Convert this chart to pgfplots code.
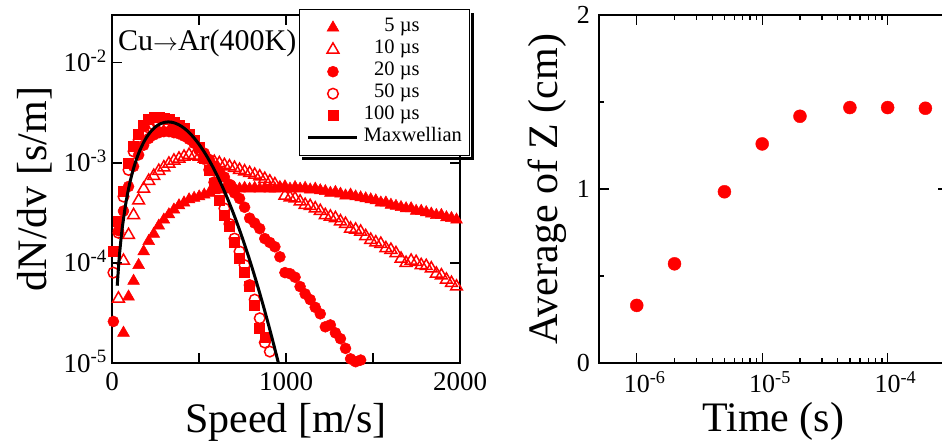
\documentclass[border=0pt]{standalone}
\usepackage{fontspec}
\setmainfont{Liberation Serif}
\usepackage{pgfplots}
\pgfplotsset{compat=1.18}

\pgfplotsset{
  frame/.style={
    scale only axis,
    tick align=inside,
    axis line style={line width=2pt},
    every tick/.style={black, line width=1.4pt},
    major tick length=10pt,
    minor tick length=5pt,
    clip=false,
    clip marker paths=true,
  },
  mkleg/.style={legend image code/.code={\draw[mark repeat=2,mark phase=2,##1] plot coordinates {(0pt,0pt) (24.5pt,0pt) (49pt,0pt)};}},
  lnleg/.style={legend image code/.code={\draw[##1] (0pt,0pt) -- (49pt,0pt);}},
}

\begin{document}
\begin{tikzpicture}[x=1pt,y=1pt]

% ---------------- speed distributions ----------------
\begin{axis}[frame,
  at={(112pt,83pt)}, anchor=south west,
  width=348pt, height=348pt,
  xmin=0, xmax=2000,
  ymode=log, ymin=1e-5, ymax=3e-2,
  yminorticks=false,
  xtick={0,500,1000,1500,2000},
  xticklabels={0,,1000,,2000},
  ytick={1e-5,1e-4,1e-3,1e-2},
  yticklabels={10\textsuperscript{-5},10\textsuperscript{-4},10\textsuperscript{-3},10\textsuperscript{-2}},
  xticklabel style={font=\fontsize{27}{30}\selectfont, anchor=base, inner sep=0pt, yshift=-27pt},
  yticklabel style={font=\fontsize{27}{30}\selectfont, anchor=base east, inner sep=0pt, xshift=-5pt, yshift=-9pt},
  xlabel={Speed [m/s]}, ylabel={dN/dv [s/m]},
  label style={font=\fontsize{42}{46}\selectfont},
  xlabel style={at={(axis description cs:0.5,-0.170)}, anchor=center},
  ylabel style={at={(axis description cs:-0.221,0.5)}, anchor=center},
  legend cell align=left,
  legend style={name=leg, at={(axis description cs:0.537,1.017)}, anchor=north west,
    draw=black, line width=1.2pt, fill=white,
    font=\fontsize{20.5}{22}\selectfont,
    inner xsep=7.5pt, inner ysep=7pt, row sep=0pt,
    nodes={inner sep=0pt, text height=15pt, text depth=7pt},
    /tikz/every odd column/.append style={column sep=5pt}},
]
\node[anchor=base west, font=\fontsize{30}{32}\selectfont, inner sep=0pt] at (axis description cs:0.017,0.897) {Cu$\rightarrow$Ar(400K)};

% 5 us
\addplot[only marks, mark=triangle*, mark size=6.8pt, red, mark options={fill=red, draw=red, line width=0.5pt}, mkleg]
coordinates {(66,2.0e-5) (95,4.6e-5) (124,6.6e-5) (153,9.5e-5) (182,1.3e-4) (211,1.65e-4) (240,1.95e-4) (269,2.35e-4) (298,2.7e-4) (327,3.05e-4) (356,3.4e-4) (385,3.75e-4) (414,4.0e-4) (443,4.3e-4) (472,4.45e-4) (501,4.6e-4) (530,4.8e-4) (559,5.0e-4) (588,5.3e-4) (617,5.4e-4) (646,5.5e-4) (675,5.4e-4) (704,5.6e-4) (733,5.5e-4) (762,5.6e-4) (791,5.5e-4) (820,5.6e-4) (849,5.5e-4) (878,5.6e-4) (907,5.5e-4) (936,5.5e-4) (965,5.6e-4) (994,5.8e-4) (1023,5.5e-4) (1052,5.7e-4) (1081,5.5e-4) (1110,5.6e-4) (1139,5.4e-4) (1168,5.5e-4) (1197,5.3e-4) (1226,5.2e-4) (1255,5.0e-4) (1284,5.1e-4) (1313,4.9e-4) (1342,4.7e-4) (1371,4.8e-4) (1400,4.6e-4) (1429,4.5e-4) (1458,4.4e-4) (1487,4.3e-4) (1516,4.2e-4) (1545,4.0e-4) (1574,4.0e-4) (1603,3.8e-4) (1632,3.7e-4) (1661,3.6e-4) (1690,3.5e-4) (1719,3.5e-4) (1748,3.3e-4) (1777,3.3e-4) (1806,3.2e-4) (1835,3.1e-4) (1864,3.0e-4) (1893,3.0e-4) (1922,2.85e-4) (1951,2.8e-4) (1980,2.7e-4)};
\addlegendentry{\phantom{00}5 µs}

% 10 us
\addplot[only marks, mark=triangle, mark size=6.8pt, red, mark options={draw=red, line width=1.5pt}, mkleg]
coordinates {(37,4.4e-5) (66,1.05e-4) (95,1.9e-4) (124,3.0e-4) (153,4.2e-4) (182,5.5e-4) (211,6.6e-4) (240,7.4e-4) (269,8.3e-4) (298,9.0e-4) (327,9.8e-4) (356,1.05e-3) (385,1.1e-3) (414,1.15e-3) (443,1.2e-3) (472,1.18e-3) (501,1.15e-3) (530,1.1e-3) (559,1.06e-3) (588,1.02e-3) (617,9.9e-4) (646,9.5e-4) (675,9.2e-4) (704,8.9e-4) (733,8.5e-4) (762,8.2e-4) (791,7.9e-4) (820,7.6e-4) (849,7.3e-4) (878,6.9e-4) (907,6.5e-4) (936,6.1e-4) (965,5.6e-4) (994,4.7e-4) (1023,4.5e-4) (1052,4.4e-4) (1081,4.1e-4) (1110,3.8e-4) (1139,3.7e-4) (1168,3.5e-4) (1197,3.3e-4) (1226,3.0e-4) (1255,2.9e-4) (1284,2.8e-4) (1313,2.6e-4) (1342,2.45e-4) (1371,2.2e-4) (1400,2.15e-4) (1429,2.05e-4) (1458,1.85e-4) (1487,1.7e-4) (1516,1.6e-4) (1545,1.55e-4) (1574,1.4e-4) (1603,1.35e-4) (1632,1.25e-4) (1661,1.1e-4) (1690,1.0e-4) (1719,1.05e-4) (1748,1.02e-4) (1777,9.5e-5) (1806,9.3e-5) (1835,8.8e-5) (1864,7.8e-5) (1893,7.5e-5) (1922,6.8e-5) (1951,6.3e-5) (1980,5.8e-5)};
\addlegendentry{\phantom{0}10 µs}

% 20 us
\addplot[only marks, mark=*, mark size=5.5pt, red, mark options={fill=red, draw=red, line width=0.5pt}, mkleg]
coordinates {(8,2.6e-5) (37,2.1e-4) (66,3.3e-4) (95,5.8e-4) (124,9.2e-4) (153,1.2e-3) (182,1.5e-3) (211,1.75e-3) (240,1.9e-3) (269,2.0e-3) (298,2.05e-3) (327,2.05e-3) (356,2.0e-3) (385,1.95e-3) (414,1.85e-3) (443,1.72e-3) (472,1.58e-3) (501,1.42e-3) (530,1.25e-3) (559,1.08e-3) (588,9.3e-4) (617,8.2e-4) (646,7.2e-4) (675,6.1e-4) (704,5.0e-4) (733,4.4e-4) (762,3.6e-4) (791,2.8e-4) (820,2.5e-4) (849,2.2e-4) (878,1.75e-4) (907,1.6e-4) (936,1.45e-4) (965,1.15e-4) (994,8.0e-5) (1023,7.8e-5) (1052,7.2e-5) (1081,5.8e-5) (1110,4.9e-5) (1139,4.3e-5) (1168,3.6e-5) (1197,3.1e-5) (1226,2.3e-5) (1255,2.4e-5) (1284,2.0e-5) (1313,1.75e-5) (1342,1.4e-5) (1371,1.1e-5) (1400,1.03e-5) (1429,1.07e-5)};
\addlegendentry{\phantom{0}20 µs}

% 50 us
\addplot[only marks, mark=o, mark size=5.3pt, red, mark options={draw=red, line width=1.5pt}, mkleg]
coordinates {(8,8.0e-5) (37,2.0e-4) (66,4.6e-4) (95,8.5e-4) (124,1.3e-3) (153,1.7e-3) (182,2.0e-3) (211,2.25e-3) (240,2.4e-3) (269,2.45e-3) (298,2.45e-3) (327,2.4e-3) (356,2.3e-3) (385,2.15e-3) (414,1.98e-3) (443,1.8e-3) (472,1.58e-3) (501,1.35e-3) (530,1.1e-3) (559,8.5e-4) (588,6.4e-4) (617,4.8e-4) (646,3.5e-4) (675,2.45e-4) (704,1.75e-4) (733,1.3e-4) (762,9.5e-5) (791,6.0e-5) (820,4.3e-5) (849,2.8e-5) (878,1.6e-5) (907,1.3e-5)};
\addlegendentry{\phantom{0}50 µs}

% 100 us
\addplot[only marks, mark=square*, mark size=5pt, red, mark options={fill=red, draw=red, line width=0.5pt}, mkleg]
coordinates {(8,1.3e-4) (37,2.6e-4) (66,5.2e-4) (95,1.0e-3) (124,1.45e-3) (153,1.95e-3) (182,2.4e-3) (211,2.75e-3) (240,2.85e-3) (269,2.85e-3) (298,2.8e-3) (327,2.7e-3) (356,2.55e-3) (385,2.4e-3) (414,2.2e-3) (443,1.95e-3) (472,1.7e-3) (501,1.42e-3) (530,1.12e-3) (559,8.5e-4) (588,6.3e-4) (617,4.2e-4) (646,3.0e-4) (675,2.3e-4) (704,1.6e-4) (733,1.12e-4) (762,8.0e-5) (791,5.8e-5) (820,3.8e-5) (849,2.2e-5) (878,1.8e-5)};
\addlegendentry{100 µs}

% Maxwellian for Cu at 400 K (most probable speed 324 m/s)
\addplot[draw=black, line width=3pt, smooth, lnleg]
coordinates {(30,5.92e-5) (40,1.0456e-4) (50,1.6198e-4) (60,2.3082e-4) (80,3.9955e-4) (100,6.0324e-4) (120,8.330e-4) (140,1.0790e-3) (160,1.3310e-3) (180,1.5789e-3) (200,1.8131e-3) (220,2.0254e-3) (240,2.2079e-3) (260,2.3559e-3) (280,2.4650e-3) (300,2.5336e-3) (324,2.5625e-3) (340,2.5503e-3) (360,2.5021e-3) (380,2.4209e-3) (400,2.3121e-3) (430,2.1078e-3) (460,1.8704e-3) (490,1.6175e-3) (520,1.3652e-3) (550,1.1247e-3) (580,9.0546e-4) (610,7.1290e-4) (640,5.4911e-4) (670,4.1399e-4) (700,3.0555e-4) (730,2.2076e-4) (760,1.5629e-4) (790,1.0842e-4) (820,7.373e-5) (850,4.916e-5) (880,3.214e-5) (910,2.0616e-5) (940,1.2969e-5) (955,1.0204e-5)};
\addlegendentry{Maxwellian}
\end{axis}

% shadow of the legend box
\fill[black] ([shift={(0.6,-3.5)}]leg.north east) rectangle ([shift={(4.1,-4.1)}]leg.south east);
\fill[black] ([shift={(3.5,-0.6)}]leg.south west) rectangle ([shift={(4.1,-4.1)}]leg.south east);

% ---------------- mean height versus time ----------------
\begin{axis}[frame,
  at={(599pt,83pt)}, anchor=south west,
  width=348.5pt, height=348pt,
  xmode=log, xmin=5e-7, xmax=3e-4,
  ymin=0, ymax=2,
  xtick={1e-6,1e-5,1e-4},
  xticklabels={10\rlap{\textsuperscript{-6}},10\rlap{\textsuperscript{-5}},10\rlap{\textsuperscript{-4}}},
  ytick={0,1,2}, yticklabels={0,1,2},
  minor ytick={0.5,1.5},
  xticklabel style={font=\fontsize{26}{28}\selectfont, anchor=base, inner sep=0pt, yshift=-30pt},
  yticklabel style={font=\fontsize{26}{28}\selectfont, anchor=base east, inner sep=0pt, xshift=-9pt, yshift=-8.5pt},
  xlabel={Time (s)}, ylabel={Average of Z (cm)},
  label style={font=\fontsize{42}{46}\selectfont},
  xlabel style={at={(axis description cs:0.5,-0.169)}, anchor=center},
  ylabel style={at={(axis description cs:-0.149,0.5)}, anchor=center},
]
\addplot[only marks, mark=*, mark size=6.5pt, red, mark options={fill=red, draw=red}]
coordinates {(1e-6,0.331) (2e-6,0.570) (5e-6,0.984) (1e-5,1.259) (2e-5,1.418) (5e-5,1.468) (1e-4,1.468) (2e-4,1.464)};
\end{axis}

\pgfresetboundingbox
\path[use as bounding box] (0,0) rectangle (942,446);
\end{tikzpicture}
\end{document}
